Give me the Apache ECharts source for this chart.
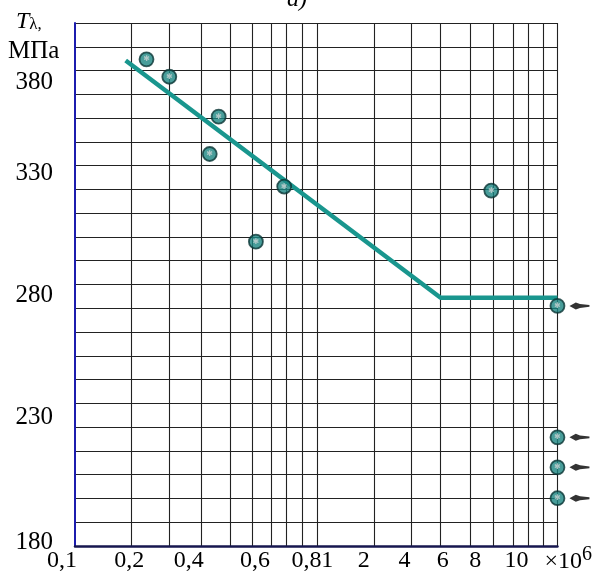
<!DOCTYPE html>
<html><head><meta charset="utf-8">
<script src="https://cdn.jsdelivr.net/npm/echarts@6/dist/echarts.min.js"></script>
<style>html,body{margin:0;padding:0;background:#fff}#c{width:595px;height:578px}</style>
</head><body><div id="c"></div>
<script>
// Ruling of the (distorted) two-decade log paper: cycle values N (x10^6) and the
// sheet position of each ruling line (0..200 = two decades of the sheet).
const gridN = [0.1,0.2,0.3,0.4,0.5,0.6,0.7,0.8,0.9,1,2,3,4,5,6,7,8,9,10];
const gridU = [0,23.33,39.09,52.14,64.49,73.37,81.48,87.65,94.24,100.41,123.87,139.22,151.56,163.79,173.54,181.48,187.94,194.03,200];

// Tick labels
const xTickN = [0.1,0.2,0.4,0.6,0.8,1,2,4,6,8,10];
const xTickText = ['0,1','0,2','0,4','0,6','0,8','1','2','4','6','8','10'];
const yTickVal = [180,230,280,330,380];
const yGridVal = [190,200,210,220,230,240,250,260,270,280,290,300,310,320,330,340,350,360,370,380,390,400];

// Broken specimens (N x10^6, T MPa)
const failN = [0.24,0.30,0.46,0.43,0.785,0.62,5.9];
const failT = [384.7,377.4,360.6,344.9,331.2,308.0,329.5];
// Run-outs (unbroken)
const runN = [10,10,10,10];
const runT = [281,225.7,213.1,200.1];
// Fatigue curve
const curveN = [0.19,4,10];
const curveT = [384.2,284.4,284.4];

// label nudges (style only, px; x: +right, y: +down) to mimic the original lettering
const xLabelShift = [-13,-2,-12,3,20,10,-10,-36,-51,-53,-41];
const yLabelShift = [-4,-10,-13,-16,12];

function toPaper(n){
  for(let i=0;i<gridN.length-1;i++){
    if(n>=gridN[i] && n<=gridN[i+1]){
      return gridU[i] + (n-gridN[i])/(gridN[i+1]-gridN[i])*(gridU[i+1]-gridU[i]);
    }
  }
  return n<gridN[0]?gridU[0]:gridU[gridU.length-1];
}

const SERIF = '"Liberation Serif","Times New Roman",serif';
const xLabelU = xTickN.map(toPaper);
const xRich = {}, yRich = {};
xLabelShift.forEach((s,i)=>{
  xRich['x'+i] = {fontFamily:SERIF,fontSize:24,color:'#000',
    padding: s<0 ? [0,-2*s,0,0] : [0,0,0,2*s]};
});
yLabelShift.forEach((s,i)=>{
  yRich['y'+i] = {fontFamily:SERIF,fontSize:25,color:'#000',
    padding: s<0 ? [0,0,-2*s,0] : [2*s,0,0,0]};
});

const markerStyle = {color:'#1a8581', borderColor:'#0a3534', borderWidth:1.8};
const markerLabel = {show:true, position:'inside', formatter:'✱', fontSize:8, color:'#c9d3d3', fontFamily:'DejaVu Sans'};

const chart = echarts.init(document.getElementById('c'), null, {renderer:'canvas'});
chart.setOption({
  backgroundColor:'#fff',
  animation:false,
  grid:{left:75, right:34, top:23, bottom:32, containLabel:false},
  xAxis:{
    type:'value', min:0, max:200,
    axisLine:{show:true, lineStyle:{color:'#17174f', width:2.5}},
    axisTick:{show:false, customValues: gridN.slice(1).map(toPaper)},
    splitLine:{show:true, lineStyle:{color:'#222', width:1.1}},
    axisLabel:{
      customValues: xLabelU, margin:3, showMinLabel:true, showMaxLabel:true, hideOverlap:false,
      formatter:(v)=>{
        for(let i=0;i<xLabelU.length;i++){ if(Math.abs(xLabelU[i]-v)<1e-6) return '{x'+i+'|'+xTickText[i]+'}'; }
        return '';
      },
      rich:xRich
    },
    name:'{a|×10}{b|6}', nameLocation:'end', nameGap:-13,
    nameTextStyle:{padding:[32,0,0,0], rich:{
      a:{fontFamily:SERIF,fontSize:24,color:'#000'},
      b:{fontFamily:SERIF,fontSize:20,color:'#000',padding:[0,0,15,0]}
    }}
  },
  yAxis:{
    type:'value', min:180, max:400, interval:10,
    axisLine:{show:true, lineStyle:{color:'#1c1cae', width:2}},
    axisTick:{show:false, customValues: yGridVal},
    splitLine:{show:true, lineStyle:{color:'#222', width:1.1}},
    axisLabel:{
      customValues: yTickVal, margin:22, showMinLabel:true, showMaxLabel:true,
      formatter:(v)=>{
        const i = yTickVal.indexOf(v);
        return i<0 ? '' : '{y'+i+'|'+v+'}';
      },
      rich:yRich
    }
  },
  graphic:[
    {type:'text', x:16, y:22, style:{text:'{t|T}{l|λ,}', verticalAlign:'middle', fill:'#000',
      rich:{t:{fontFamily:SERIF,fontStyle:'italic',fontSize:24,fill:'#000'},
            l:{fontFamily:SERIF,fontSize:17,fill:'#000',padding:[6,0,0,0]}}}},
    {type:'text', x:8, y:51.5, style:{text:'МПа', fontFamily:SERIF, fontSize:25, verticalAlign:'middle', fill:'#000'}},
    {type:'text', x:287, y:0, style:{text:'а)', fontFamily:SERIF, fontStyle:'italic', fontSize:24, verticalAlign:'middle', fill:'#000'}}
  ],
  series:[
    {type:'line', data: curveN.map((n,i)=>[toPaper(n), curveT[i]]), symbol:'none',
      lineStyle:{color:'#19968e', width:4.5}, z:3, clip:false},
    {type:'scatter', data: failN.map((n,i)=>[toPaper(n), failT[i]]), symbol:'circle', symbolSize:14,
      itemStyle:markerStyle, label:markerLabel, z:4, clip:false},
    {type:'scatter', data: runN.map((n,i)=>[toPaper(n), runT[i]]), symbol:'circle', symbolSize:14,
      itemStyle:markerStyle, label:markerLabel, z:4, clip:false},
    {type:'scatter', data: runN.map((n,i)=>[toPaper(n), runT[i]]),
      symbol:'path://M0,3.5 L6,0.5 L10,1.8 L19,2.7 L19,4.3 L10,5.2 L6,6.5 Z', symbolSize:[20,7], symbolOffset:[22,0],
      itemStyle:{color:'#000'}, z:4, clip:false, silent:true}
  ]
});
</script></body></html>
